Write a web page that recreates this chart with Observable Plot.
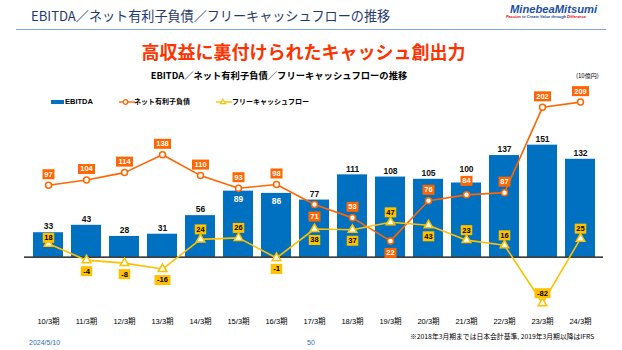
<!DOCTYPE html>
<html><head><meta charset="utf-8">
<script src="https://cdn.jsdelivr.net/npm/d3@7"></script>
<script src="https://cdn.jsdelivr.net/npm/@observablehq/plot@0.6"></script>
<style>
body{margin:0;background:#fff;}
#page{position:relative;width:622px;height:350px;overflow:hidden;font-family:"Liberation Sans","Noto Sans CJK JP",sans-serif;}
.abs{position:absolute;white-space:nowrap;line-height:1;}
.jp{font-family:"Noto Sans CJK JP","Liberation Sans",sans-serif;}
#chart{position:absolute;left:0;top:85px;}
</style></head><body><div id="page">
<div class="abs jp" style="left:31px;top:9px;font-size:13.1px;color:#1f3b70;">EBITDA／ネット有利子負債／フリーキャッシュフローの推移</div>
<div class="abs" style="left:510px;top:4px;font-size:11.2px;font-weight:bold;font-style:italic;color:#1c4fa3;">MinebeaMitsumi</div>
<div class="abs" style="left:506px;top:15px;font-size:3.9px;font-weight:bold;font-style:italic;color:#1c4fa3;"><span style="color:#e60012">Passion</span> to Create Value through <span style="color:#e60012">Difference</span></div>
<div class="abs" style="left:16px;top:28.5px;width:590px;height:1.3px;background:#7ea6d9;"></div>
<div class="abs jp" style="left:303.5px;top:41.8px;transform:translateX(-50%);font-size:18px;font-weight:bold;color:#ff3300;">高収益に裏付けられたキャッシュ創出力</div>
<div class="abs jp" style="left:279px;top:70.6px;transform:translateX(-50%);font-size:9.3px;font-weight:bold;color:#000;">EBITDA／ネット有利子負債／フリーキャッシュフローの推移</div>
<div class="abs jp" style="left:576px;top:73.4px;font-size:6px;color:#000;">(10億円)</div>
<div id="legend"></div>
<div id="chart"></div>
<div class="abs" style="left:29px;top:339.3px;font-size:7px;color:#2f6eba;">2024/5/10</div>
<div class="abs" style="left:307px;top:339.3px;font-size:7px;color:#2f6eba;">50</div>
<div class="abs jp" style="left:410px;top:332.8px;font-size:6.8px;color:#000;">※2018年3月期までは日本会計基準, 2019年3月期以降はIFRS</div>
</div>
<script>
const years = ["10/3期","11/3期","12/3期","13/3期","14/3期","15/3期","16/3期","17/3期","18/3期","19/3期","20/3期","21/3期","22/3期","23/3期","24/3期"];
const ebitda = [33,43,28,31,56,89,86,77,111,108,105,100,137,151,132];
const netDebt = [97,104,114,138,110,93,98,71,53,22,76,84,87,202,209];
const fcf = [18,-4,-8,-16,24,26,-1,38,37,47,43,23,16,-82,25];
const seriesNames = ["EBITDA","ネット有利子負債","フリーキャッシュフロー"];

const BLUE = "#0070c0", ORANGE = "#ff6600", YELLOW = "#ffc000";

const rows = years.map((year, i) => ({year, e: ebitda[i], n: netDebt[i], f: fcf[i]}));
// label placement, derived from the values to avoid collisions
rows.forEach(d => {
  const eInside = d.n > d.e && d.n - d.e < 15;
  const nBelow = d.n < d.f || (d.n < d.e && d.e - d.n < 10);
  const fBelow = (d.f < 0 && d.f > -50) || (d.n > d.f && d.n - d.f < 40);
  const crowded = !nBelow && d.n < d.e && d.e - d.n < 20;
  d.eInside = eInside;
  d.eDy = eInside ? 8 : crowded ? -14 : -6;
  d.nDy = nBelow ? 12 : crowded ? -14 : -11;
  d.fDy = fBelow ? 11 : (d.e > d.f && d.e - d.f < 20) ? -6 : -10;
});

const box = (w, h) => ({draw(ctx) { ctx.rect(-w / 2, -h / 2, w, h); }});

function labelMarks(key, dyKey, bg, fg, wFn) {
  return d3.groups(rows, d => String(d[key]).length, d => d[dyKey]).flatMap(([len, byDy]) =>
    byDy.flatMap(([dy, g]) => [
      Plot.dot(g, {x: "year", y: key, symbol: box(wFn(len), 10), r: 4, fill: bg, stroke: "none", dy}),
      Plot.text(g, {x: "year", y: key, text: d => String(d[key]), fill: fg, fontSize: 7.5, fontWeight: "bold", dy})
    ]));
}
function ebitdaLabels() {
  return d3.groups(rows, d => d.eDy).map(([dy, g]) =>
    Plot.text(g, {x: "year", y: "e", text: d => String(d.e), dy, fontSize: 8.5, fontWeight: "bold", fill: dy > 0 ? "#fff" : "#111"}));
}
const oW = len => len >= 3 ? 17 : 12;
const yW = len => len >= 3 ? 16 : 11.5;

// the reference compresses the axis below -20 (deep negative FCF)
const Y0 = 171.7, k = 0.742, ratio = 0.5026 / 0.742;
const squeeze = v => v < -20 ? -20 + (v + 20) * ratio : v;
const yMin = squeeze(-100);
const chart = Plot.plot({
  width: 622, height: 250,
  marginLeft: 24, marginRight: 19, marginTop: 0, marginBottom: 20,
  style: {fontFamily: "'Liberation Sans','Noto Sans CJK JP',sans-serif", fontSize: "7.5px", color: "#000", background: "transparent"},
  x: {type: "band", domain: years, range: [24.4, 603.4], paddingInner: 0.2, paddingOuter: 0.1, tickSize: 0, tickPadding: 3, label: null},
  y: {transform: squeeze, domain: [yMin, 220], range: [Y0 - yMin * k, Y0 - 220 * k], axis: null},
  marks: [
    Plot.barY(rows, {x: "year", y: "e", fill: BLUE}),
    Plot.ruleY([0], {stroke: "#000", strokeWidth: 1.2}),
    Plot.line(rows, {x: "year", y: "n", stroke: ORANGE, strokeWidth: 1.6}),
    Plot.line(rows, {x: "year", y: "f", stroke: YELLOW, strokeWidth: 1.6}),
    Plot.dot(rows, {x: "year", y: "n", r: 3, fill: "white", stroke: ORANGE, strokeWidth: 1.5}),
    Plot.dot(rows, {x: "year", y: "f", symbol: "triangle", r: 3.2, fill: "white", stroke: YELLOW, strokeWidth: 1.5}),
    ...ebitdaLabels(),
    ...labelMarks("n", "nDy", ORANGE, "#fff", oW),
    ...labelMarks("f", "fDy", YELLOW, "#000", yW)
  ]
});
document.getElementById("chart").appendChild(chart);

// legend
const lg = document.getElementById("legend");
lg.innerHTML = `
<div class="abs" style="left:51px;top:99.5px;width:13px;height:4.5px;background:${BLUE};"></div>
<div class="abs" style="left:65px;top:98px;font-size:7.5px;font-weight:bold;">${seriesNames[0]}</div>
<svg class="abs" style="left:119px;top:96.7px;" width="16" height="10"><line x1="0" y1="5" x2="16" y2="5" stroke="${ORANGE}" stroke-width="1.4"/><circle cx="6.5" cy="5" r="2.3" fill="#fff" stroke="${ORANGE}" stroke-width="1.3"/></svg>
<div class="abs jp" style="left:134px;top:97.8px;font-size:7px;font-weight:bold;">${seriesNames[1]}</div>
<svg class="abs" style="left:216px;top:96.7px;" width="16" height="10"><line x1="0" y1="5" x2="16" y2="5" stroke="${YELLOW}" stroke-width="1.4"/><path d="M7,2.2 L9.6,6.6 L4.4,6.6 Z" fill="#fff" stroke="${YELLOW}" stroke-width="1.2"/></svg>
<div class="abs jp" style="left:232px;top:97.8px;font-size:7px;font-weight:bold;">${seriesNames[2]}</div>`;
</script>
</body></html>
